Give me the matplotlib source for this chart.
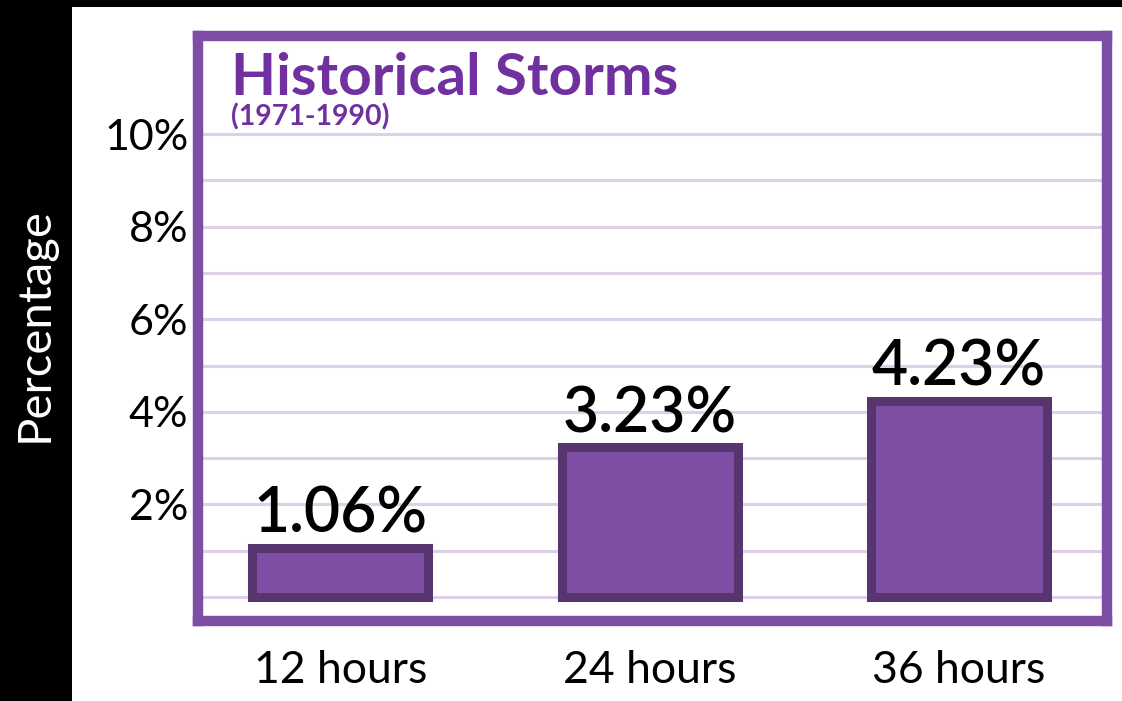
import matplotlib
matplotlib.use("Agg")
import matplotlib.pyplot as plt
from matplotlib.patches import Rectangle

# data
categories = ["12 hours", "24 hours", "36 hours"]
values = [1.06, 3.23, 4.23]
grid_levels = list(range(0, 11))
tick_levels = [2, 4, 6, 8, 10]
tick_labels = ["2%", "4%", "6%", "8%", "10%"]

frame_color = "#7E4EA4"
bar_color = "#7E4EA4"
bar_edge = "#57366F"
grid_color = "#DDD0E8"
title_color = "#7030A0"

plt.rcParams["font.family"] = ["Lato", "DejaVu Sans"]

fig = plt.figure(figsize=(11.22, 7.01), dpi=100)
fig.patch.set_facecolor("white")

# black strips along the left and the top edge
fig.patches.append(Rectangle((0, 0), 72 / 1122, 1, transform=fig.transFigure,
                             facecolor="black", edgecolor="none", zorder=0))
fig.patches.append(Rectangle((0, 1 - 7 / 701), 1, 7 / 701, transform=fig.transFigure,
                             facecolor="black", edgecolor="none", zorder=0))

ax = fig.add_axes([198 / 1122, 1 - 621 / 701, 909 / 1122, 585 / 701])
ax.set_facecolor("white")

for lv in grid_levels:
    ax.axhline(lv, color=grid_color, linewidth=2.2, zorder=1)

x = list(range(len(categories)))
ax.bar(x, values, width=0.57, color=bar_color, edgecolor=bar_edge,
       linewidth=6.5, zorder=3)

for xi, v in zip(x, values):
    ax.annotate(f"{v:.2f}%", (xi, v), xytext=(0, 11), textcoords="offset points",
                ha="center", va="baseline", fontsize=45, color="black",
                fontweight="semibold", zorder=4)

ax.set_xlim(-0.46, 2.478)
ax.set_ylim(-0.52, 12.12)

ax.set_xticks(x)
ax.set_xticklabels(categories, fontsize=32)
ax.set_yticks(tick_levels)
ax.set_yticklabels(tick_labels, fontsize=31)
ax.tick_params(axis="both", length=0)
ax.tick_params(axis="y", pad=7)
ax.tick_params(axis="x", pad=21)

for sp in ax.spines.values():
    sp.set_color(frame_color)
    sp.set_linewidth(7.5)
    sp.set_zorder(5)

fig.text(231 / 1122, 1 - 95 / 701, "Historical Storms", fontsize=42,
         fontweight="bold", color=title_color, ha="left", va="baseline")
fig.text(231 / 1122, 1 - 125 / 701, "(1971-1990)", fontsize=20.5,
         fontweight="bold", color=title_color, ha="left", va="baseline")

fig.text(35 / 1122, 1 - 325 / 701, "Percentage", fontsize=34, color="white",
         rotation=90, ha="center", va="center")

fig.savefig("out.png", dpi=100, facecolor=fig.get_facecolor())
